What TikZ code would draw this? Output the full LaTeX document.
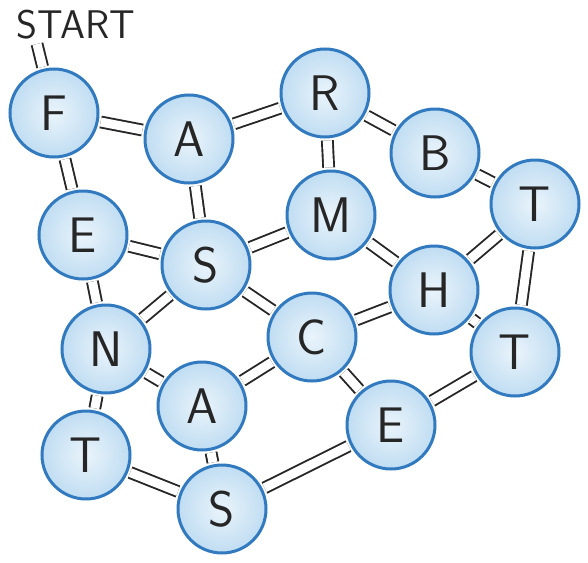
\documentclass[tikz,border=0pt]{standalone}
\usepackage{tikz}
\definecolor{bubblein}{RGB}{234,244,251}
\definecolor{bubbleout}{RGB}{192,221,242}
\definecolor{rim}{RGB}{50,122,192}
\definecolor{ink}{RGB}{38,38,38}
\begin{document}
\begin{tikzpicture}[x=1pt,y=-1pt,
  letter/.style={circle, minimum size=88pt, inner sep=0pt,
    inner color=bubblein, outer color=bubbleout,
    draw=rim, line width=3pt, text=ink,
    font=\sffamily\fontsize{50}{50}\selectfont},
  link/.style={draw=ink, double=white, double distance=9pt,
    line width=1.9pt, shorten <=2pt, shorten >=2pt}]
\useasboundingbox (0,0) rectangle (588,562);

% letter bubbles
\node[letter] (F)  at (54,113)  {F};
\node[letter] (A1) at (189,139) {A};
\node[letter] (R)  at (325,93)  {R};
\node[letter] (B)  at (435,153) {B};
\node[letter] (T1) at (535,204) {T};
\node[letter] (E1) at (83,235)  {E};
\node[letter] (S1) at (206,265) {S};
\node[letter] (M)  at (331,215) {M};
\node[letter] (H)  at (434,290) {H};
\node[letter] (N)  at (106,349) {N};
\node[letter] (C)  at (312,337) {C};
\node[letter] (T2) at (515,352) {T};
\node[letter] (A2) at (202,406) {A};
\node[letter] (E2) at (391,425) {E};
\node[letter] (T3) at (86,455)  {T};
\node[letter] (S2) at (222,509) {S};

% start label
\node[text=ink, font=\sffamily\fontsize{40}{40}\selectfont] (start) at (76,25) {START};
\coordinate (s0) at (37,44);

% double-line connectors
\draw[link, shorten <=0pt] (s0) -- (F);
\draw[link] (F) -- (A1);
\draw[link] (A1) -- (R);
\draw[link] (R) -- (B);
\draw[link] (B) -- (T1);
\draw[link] (F) -- (E1);
\draw[link] (A1) -- (S1);
\draw[link] (R) -- (M);
\draw[link] (E1) -- (S1);
\draw[link] (S1) -- (M);
\draw[link] (M) -- (H);
\draw[link] (H) -- (T1);
\draw[link] (T1) -- (T2);
\draw[link] (S1) -- (C);
\draw[link] (S1) -- (N);
\draw[link] (E1) -- (N);
\draw[link] (C) -- (H);
\draw[link] (C) -- (A2);
\draw[link] (N) -- (A2);
\draw[link] (C) -- (E2);
\draw[link] (H) -- (T2);
\draw[link] (T2) -- (E2);
\draw[link] (E2) -- (S2);
\draw[link] (A2) -- (S2);
\draw[link] (N) -- (T3);
\draw[link] (T3) -- (S2);
\end{tikzpicture}
\end{document}
